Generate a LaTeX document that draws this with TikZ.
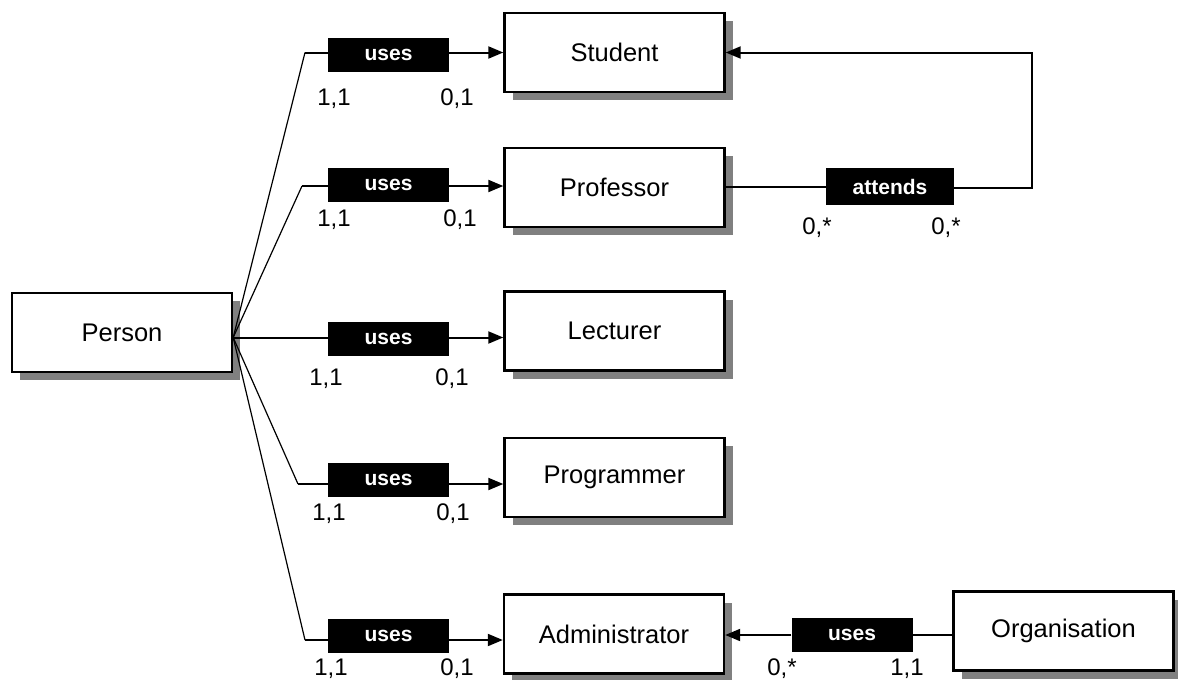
\documentclass[tikz,border=0pt]{standalone}
\usepackage{fontspec}
\setmainfont{Liberation Sans}
\usetikzlibrary{arrows.meta,shadows,calc}
\definecolor{shadowgray}{HTML}{808080}

\begin{document}
\begin{tikzpicture}[x=1pt,y=-1pt,
  entity/.style={draw, line width=2.4pt, fill=white, minimum width=220pt,
    minimum height=79pt, inner sep=0pt, font=\fontsize{25.5}{30}\selectfont,
    drop shadow={shadow xshift=8pt, shadow yshift=-8pt, fill=shadowgray, opacity=1}},
  rel/.style={fill=black, text=white, minimum width=121pt, minimum height=34pt,
    inner sep=0pt, font=\fontsize{21}{24}\selectfont\bfseries},
  card/.style={anchor=base, inner sep=0pt, font=\fontsize{24}{28}\selectfont},
  link/.style={line width=2pt},
  spoke/.style={line width=1.2pt},
  tip/.style={-{Triangle[length=15pt,width=12pt]}}
]
\useasboundingbox (0,0) rectangle (1178,680);

% entities
\node[entity] (person)     at (122,332.5)   {Person};
\node[entity] (student)    at (614.5,52.5)  {Student};
\node[entity] (professor)  at (614.5,187.5) {Professor};
\node[entity] (lecturer)   at (614.5,331)   {Lecturer};
\node[entity] (programmer) at (614.5,477.5) {Programmer};
\node[entity] (admin)      at (614,634)     {Administrator};
\node[entity] (org)        at (1063.5,631)  {Organisation};

% relationship labels
\node[rel] (u1) at (388.5,55)    {uses};
\node[rel] (u2) at (388.5,185)   {uses};
\node[rel] (u3) at (388.5,338.5) {uses};
\node[rel] (u4) at (388.5,480)   {uses};
\node[rel] (u5) at (388.5,636)   {uses};
\node[rel] (ou) at (852,635)     {uses};
\node[rel, minimum width=128pt, minimum height=37pt] (att) at (890,186.5) {attends};

% bend points of the Person fan
\coordinate (hub) at ($(person.east)+(0,5)$);
\coordinate (b1) at (305,52.5);
\coordinate (b2) at (302,186);
\coordinate (b4) at (298,484);
\coordinate (b5) at (305,640);
\coordinate (turn) at (1032,52.5);

% Person -> Student
\draw[spoke] (hub) -- (b1);
\draw[link] (b1) -- (u1.west |- b1);
\draw[link,tip] (u1.east |- b1) -- (student.west |- b1);
% Person -> Professor
\draw[spoke] (hub) -- (b2);
\draw[link] (b2) -- (u2.west |- b2);
\draw[link,tip] (u2.east |- b2) -- (professor.west |- b2);
% Person -> Lecturer
\draw[link] (hub) -- (u3.west |- hub);
\draw[link,tip] (u3.east |- hub) -- (lecturer.west |- hub);
% Person -> Programmer
\draw[spoke] (hub) -- (b4);
\draw[link] (b4) -- (u4.west |- b4);
\draw[link,tip] (u4.east |- b4) -- (programmer.west |- b4);
% Person -> Administrator
\draw[spoke] (hub) -- (b5);
\draw[link] (b5) -- (u5.west |- b5);
\draw[link,tip] (u5.east |- b5) -- (admin.west |- b5);

% Professor attends Student
\draw[link] (professor.east |- att) -- (att.west);
\draw[link,tip] (att.east |- professor.east) -| (turn) -- (student.east);

% Organisation uses Administrator
\draw[link] (org.west |- ou) -- (ou.east);
\draw[link,tip] (ou.west) -- (admin.east |- ou);

% cardinalities
\node[card] (s11) at (334,105) {1,1};
\node[card] (s01) at (457,105) {0,1};
\node[card] (p11) at (334,226) {1,1};
\node[card] (p01) at (460,226) {0,1};
\node[card] (l11) at (326,385) {1,1};
\node[card] (l01) at (452,385) {0,1};
\node[card] (g11) at (329,520) {1,1};
\node[card] (g01) at (453,520) {0,1};
\node[card] (a11) at (331,675) {1,1};
\node[card] (a01) at (457,675) {0,1};
\node[card] (oa)  at (782,675) {0,*};
\node[card] (ob)  at (907,675) {1,1};
\node[card] (ta)  at (817,234) {0,*};
\node[card] (tb)  at (946,234) {0,*};
\end{tikzpicture}
\end{document}
